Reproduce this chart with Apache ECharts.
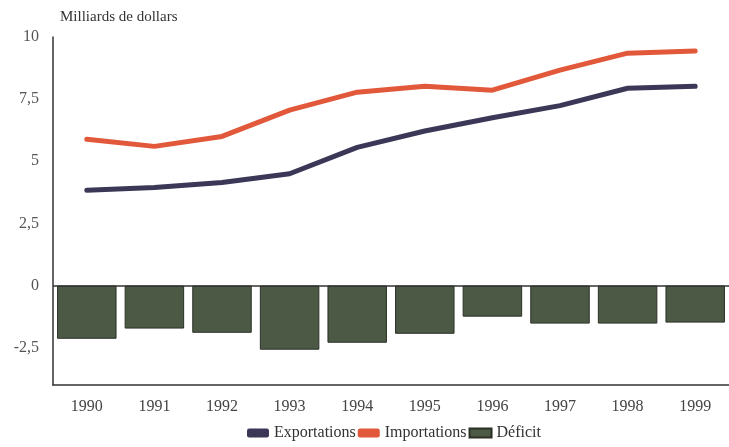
<!DOCTYPE html>
<html>
<head>
<meta charset="utf-8">
<script src="https://cdn.jsdelivr.net/npm/echarts@6/dist/echarts.min.js"></script>
<style>
  html, body { margin: 0; padding: 0; background: #fff; }
  #chart { width: 729px; height: 447px; }
</style>
</head>
<body>
<div id="chart"></div>
<script>
const years = ["1990", "1991", "1992", "1993", "1994", "1995", "1996", "1997", "1998", "1999"];
const exportations = [3.83, 3.95, 4.15, 4.5, 5.56, 6.22, 6.75, 7.24, 7.94, 8.02];
const importations = [5.89, 5.6, 6.0, 7.06, 7.78, 8.02, 7.86, 8.67, 9.35, 9.44];
const deficit = [-2.14, -1.73, -1.9, -2.58, -2.3, -1.94, -1.25, -1.53, -1.53, -1.49];
const yTicks = [-2.5, 0, 2.5, 5, 7.5, 10];

const font = "Liberation Serif";
let myChart = echarts.init(document.getElementById("chart"));
myChart.setOption({
  animation: false,
  backgroundColor: "#fff",
  textStyle: { fontFamily: font },
  grid: { left: 53, right: 0, top: 37, bottom: 62 },
  legend: {
    left: 242,
    bottom: 1,
    itemGap: 2,
    itemWidth: 22,
    itemHeight: 9,
    textStyle: { fontFamily: font, fontSize: 16, color: "#333" },
    data: [
      { name: "Exportations", icon: "roundRect" },
      { name: "Importations", icon: "roundRect" },
      { name: "Déficit", icon: "rect" },
    ],
  },
  xAxis: {
    type: "category",
    data: years,
    axisLine: { onZero: false, lineStyle: { color: "#333", width: 1.5 } },
    axisTick: { show: false },
    axisLabel: { color: "#444", fontSize: 16, margin: 14, fontFamily: font },
  },
  yAxis: {
    type: "value",
    min: -4,
    max: 10,
    splitLine: { show: false },
    axisLine: { show: true, lineStyle: { color: "#333", width: 1.5 } },
    axisTick: { show: false },
    axisLabel: {
      customValues: yTicks,
      color: "#555",
      fontSize: 16,
      margin: 14,
      fontFamily: font,
      formatter: (v) => String(v).replace(".", ","),
    },
    name: "Milliards de dollars",
    nameLocation: "end",
    nameGap: 12,
    nameTextStyle: { align: "left", color: "#333", fontSize: 15, fontFamily: font, padding: [0, 0, 0, 7] },
  },
  series: [
    {
      name: "Exportations",
      type: "line",
      data: exportations,
      symbol: "none",
      lineStyle: { color: "#3b3757", width: 5, cap: "round" },
      itemStyle: { color: "#3b3757" },
      z: 3,
    },
    {
      name: "Importations",
      type: "line",
      data: importations,
      symbol: "none",
      lineStyle: { color: "#e2583b", width: 5, cap: "round" },
      itemStyle: { color: "#e2583b" },
      z: 3,
    },
    {
      name: "Déficit",
      type: "bar",
      data: deficit,
      barCategoryGap: "12%",
      itemStyle: { color: "#4c5a45", borderColor: "#2b3027", borderWidth: 1 },
      markLine: {
        silent: true,
        symbol: "none",
        label: { show: false },
        lineStyle: { color: "#333", type: "solid", width: 1.5 },
        data: [{ yAxis: 0 }],
      },
    },
  ],
});
</script>
</body>
</html>
